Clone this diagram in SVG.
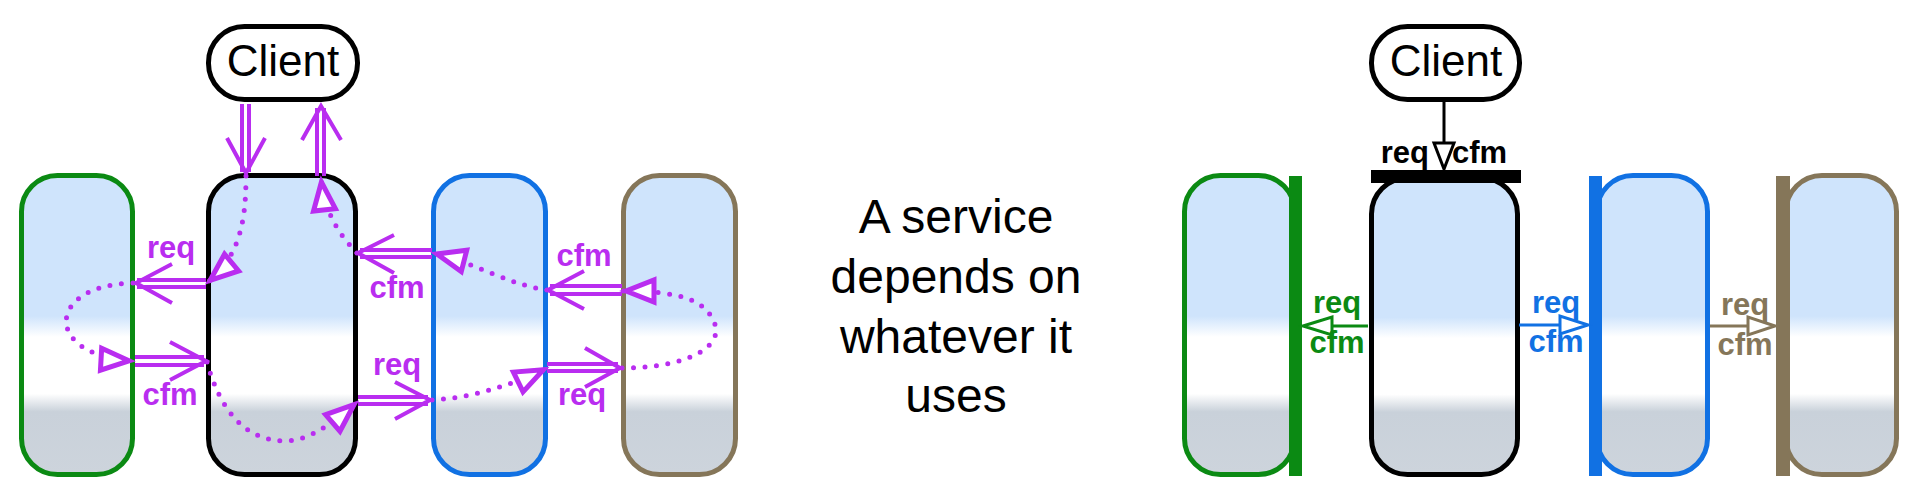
<svg xmlns="http://www.w3.org/2000/svg" width="1916" height="493" viewBox="0 0 1916 493">
<defs>
<linearGradient id="svcfill" x1="0" y1="0" x2="0" y2="1">
<stop offset="0" stop-color="#cfe4fc"/>
<stop offset="0.47" stop-color="#cfe4fc"/>
<stop offset="0.54" stop-color="#ffffff"/>
<stop offset="0.73" stop-color="#ffffff"/>
<stop offset="0.79" stop-color="#c9d1da"/>
<stop offset="1" stop-color="#cdd4dc"/>
</linearGradient>
<marker id="tri" markerUnits="userSpaceOnUse" markerWidth="60" markerHeight="40" refX="0" refY="0" orient="auto" overflow="visible">
<path d="M-4,0 L-32,-11 L-32,11 Z" fill="#ffffff" stroke="#b92df0" stroke-width="5" stroke-linejoin="miter"/>
</marker>
</defs>
<style>
.svc{fill:url(#svcfill);stroke-width:5}
.client{fill:#ffffff;stroke:#000000;stroke-width:5}
.ctext{font-family:"Liberation Sans",Arial,sans-serif;font-size:44px;fill:#000000;text-anchor:middle}
.lbl{font-family:"Liberation Sans",Arial,sans-serif;font-size:31px;font-weight:bold;text-anchor:middle}
.p{fill:#b92df0}
.dbl{stroke:#b92df0;stroke-width:4;fill:none}
.vee{stroke:#b92df0;stroke-width:4;fill:none;stroke-linejoin:miter}
.dot{stroke:#b92df0;stroke-width:5;fill:none;stroke-linecap:round;stroke-dasharray:0 11.5;marker-end:url(#tri)}
.main{font-family:"Liberation Sans",Arial,sans-serif;font-size:48px;fill:#000000;text-anchor:middle}
.ln{stroke-width:3;fill:none}
.tr{fill:#ffffff;stroke-width:3}
</style>

<g id="left-client">
<rect class="client" x="208.5" y="26.5" width="149" height="73" rx="36"/>
<text class="ctext" x="283" y="76">Client</text>
</g>
<g id="left-green">
<rect class="svc" x="21.5" y="175.5" width="111" height="299" rx="36" stroke="#0b8a13"/>
</g>
<g id="left-center">
<rect class="svc" x="208.5" y="175.5" width="147" height="299" rx="36" stroke="#000000"/>
</g>
<g id="left-blue">
<rect class="svc" x="433.5" y="175.5" width="112" height="299" rx="36" stroke="#1171e3"/>
</g>
<g id="left-tan">
<rect class="svc" x="623.5" y="175.5" width="112" height="299" rx="36" stroke="#857659"/>
</g>

<g id="left-connectors">
<line class="dbl" x1="242" y1="104" x2="242" y2="172"/>
<line class="dbl" x1="249" y1="104" x2="249" y2="172"/>
<polyline class="vee" points="227,138 246,173 265,138"/>
<line class="dbl" x1="317" y1="176" x2="317" y2="108"/>
<line class="dbl" x1="324" y1="176" x2="324" y2="108"/>
<polyline class="vee" points="302,140 321,106 341,140"/>
<line class="dbl" x1="206" y1="280" x2="137" y2="280"/>
<line class="dbl" x1="206" y1="287" x2="137" y2="287"/>
<polyline class="vee" points="172,264 136,283 172,303"/>
<text class="lbl p" x="171" y="258">req</text>
<line class="dbl" x1="135" y1="357" x2="204" y2="357"/>
<line class="dbl" x1="135" y1="365" x2="204" y2="365"/>
<polyline class="vee" points="170,342 206,361 170,380"/>
<text class="lbl p" x="170" y="405">cfm</text>
<line class="dbl" x1="358" y1="397" x2="428" y2="397"/>
<line class="dbl" x1="358" y1="404" x2="428" y2="404"/>
<polyline class="vee" points="395,382 430,400 395,419"/>
<text class="lbl p" x="397" y="375">req</text>
<line class="dbl" x1="547" y1="364" x2="618" y2="364"/>
<line class="dbl" x1="547" y1="371" x2="618" y2="371"/>
<polyline class="vee" points="585,348 620,368 585,387"/>
<text class="lbl p" x="582" y="405">req</text>
<line class="dbl" x1="622" y1="286" x2="550" y2="286"/>
<line class="dbl" x1="622" y1="294" x2="550" y2="294"/>
<polyline class="vee" points="584,271 548,290 584,309"/>
<text class="lbl p" x="584" y="266">cfm</text>
<line class="dbl" x1="432" y1="250" x2="360" y2="250"/>
<line class="dbl" x1="432" y1="257" x2="360" y2="257"/>
<polyline class="vee" points="394,235 358,253 394,273"/>
<text class="lbl p" x="397" y="298">cfm</text>
<path class="dot" d="M246,176 C246,228 237,258 207,283"/>
<path class="dot" d="M133,283 C45,285 43,356 133,361"/>
<path class="dot" d="M207,362 C220,410 245,441 285,441 C310,441 335,421 357,402"/>
<path class="dot" d="M432,400 C470,398 510,386 547,368"/>
<path class="dot" d="M622,368 C690,368 725,345 714,322 C705,300 680,291 622,291"/>
<path class="dot" d="M547,290 C510,285 480,265 433,253"/>
<path class="dot" d="M357,253 C340,235 325,215 321,178"/>
</g>

<g id="caption">
<text class="main" x="956" y="233">A service</text>
<text class="main" x="956" y="293">depends on</text>
<text class="main" x="956" y="353">whatever it</text>
<text class="main" x="956" y="412">uses</text>
</g>

<g id="right-client">
<rect class="client" x="1371.5" y="26.5" width="148" height="73" rx="36"/>
<text class="ctext" x="1446" y="76">Client</text>
</g>
<g id="right-green">
<rect class="svc" x="1184.5" y="175.5" width="110" height="299" rx="36" stroke="#0b8a13"/>
<rect x="1289" y="176" width="13" height="300" fill="#0b8a13"/>
</g>
<g id="right-center">
<rect class="svc" x="1371.5" y="178" width="146" height="296.5" rx="36" stroke="#000000"/>
<rect x="1371" y="170" width="150" height="13" fill="#000000"/>
</g>
<g id="right-blue">
<rect class="svc" x="1597" y="175.5" width="110.5" height="299" rx="36" stroke="#1171e3"/>
<rect x="1589" y="176" width="13" height="300" fill="#1171e3"/>
</g>
<g id="right-tan">
<rect class="svc" x="1786" y="175.5" width="110.5" height="299" rx="36" stroke="#857659"/>
<rect x="1776" y="176" width="14" height="300" fill="#857659"/>
</g>

<g id="right-connectors">
<line class="ln" x1="1444" y1="102" x2="1444" y2="143" stroke="#000000"/>
<polygon class="tr" points="1434,143 1454,143 1444,169" stroke="#000000"/>
<text class="lbl" x="1429" y="163" fill="#000000" style="text-anchor:end">req</text>
<text class="lbl" x="1452" y="163" fill="#000000" style="text-anchor:start">cfm</text>

<line class="ln" x1="1368" y1="326" x2="1332" y2="326" stroke="#0b8a13"/>
<polygon class="tr" points="1303,326 1332,317 1332,335" stroke="#0b8a13"/>
<text class="lbl" x="1337" y="313" fill="#0b8a13">req</text>
<text class="lbl" x="1337" y="353" fill="#0b8a13">cfm</text>

<line class="ln" x1="1519" y1="325" x2="1560" y2="325" stroke="#1171e3"/>
<polygon class="tr" points="1588,325 1560,316 1560,334" stroke="#1171e3"/>
<text class="lbl" x="1556" y="313" fill="#1171e3">req</text>
<text class="lbl" x="1556" y="352" fill="#1171e3">cfm</text>

<line class="ln" x1="1710" y1="326" x2="1748" y2="326" stroke="#857659"/>
<polygon class="tr" points="1775,326 1748,317 1748,335" stroke="#857659"/>
<text class="lbl" x="1745" y="315" fill="#857659">req</text>
<text class="lbl" x="1745" y="355" fill="#857659">cfm</text>
</g>
</svg>
